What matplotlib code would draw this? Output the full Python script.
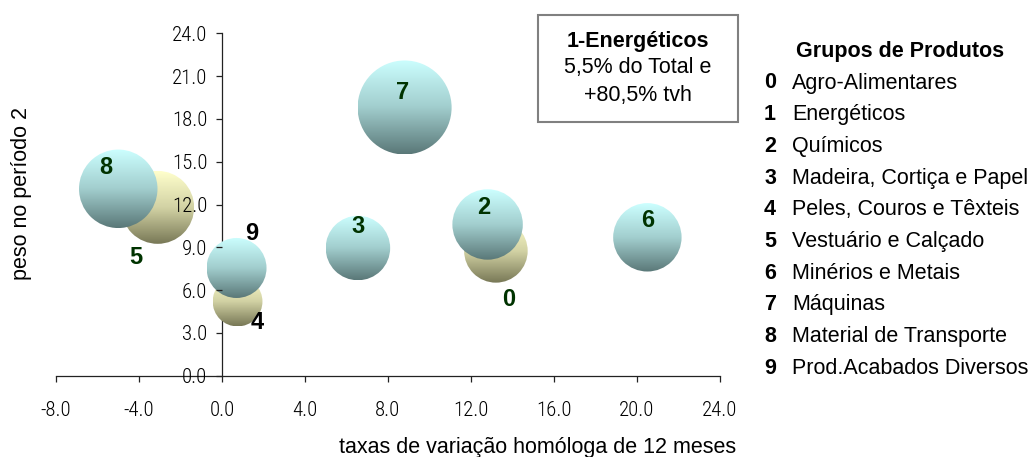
import numpy as np
import matplotlib.pyplot as plt
from matplotlib.patches import Ellipse, Rectangle
from matplotlib.colors import LinearSegmentedColormap

# Bubble chart: taxa de variação homóloga vs peso no período 2

# yellow series (drawn first, behind)
codes_a = ['0', '4', '5']
x_a = [13.2, 0.75, -3.1]
y_a = [8.75, 5.2, 11.8]
size_a = [10.1, 6.2, 13.3]

# cyan series
codes_b = ['2', '3', '6', '7', '8', '9']
x_b = [12.8, 6.55, 20.5, 8.8, -5.0, 0.7]
y_b = [10.6, 8.95, 9.7, 18.8, 13.1, 7.55]
size_b = [12.4, 10.4, 11.7, 22.1, 15.4, 9.0]

legend_codes = ['0', '1', '2', '3', '4', '5', '6', '7', '8', '9']
legend_names = ['Agro-Alimentares', 'Energéticos', 'Químicos',
                'Madeira, Cortiça e Papel', 'Peles, Couros e Têxteis',
                'Vestuário e Calçado', 'Minérios e Metais', 'Máquinas',
                'Material de Transporte', 'Prod.Acabados Diversos']

box_lines = ['1-Energéticos', '5,5% do Total e', '+80,5% tvh']

xticks = np.arange(-8, 25, 4)
yticks = np.arange(0, 25, 3)

# label offsets in pixels (dx, dy) and colours
label_offset = {'0': (13, -49), '2': (-4, 17), '3': (0, 22), '4': (20, -21),
                '5': (-22, -50), '6': (0, 17), '7': (-2, 15), '8': (-12, 21),
                '9': (15, 34)}
label_color = {'4': 'black', '9': 'black'}
DARK_GREEN = '#003300'
SANS = ['Liberation Sans', 'DejaVu Sans']
NARROW = ['Roboto Condensed', 'DejaVu Sans']
FS = 15.5

W, H = 1029, 457
fig = plt.figure(figsize=(W / 100, H / 100), dpi=100)
ax_l, ax_r, ax_t, ax_b = 56, 720, 33.3, 375.7
ax = fig.add_axes([ax_l / W, 1 - ax_b / H, (ax_r - ax_l) / W, (ax_b - ax_t) / H])

xmin, xmax, ymin, ymax = -8, 24, 0, 24
px_x = (ax_r - ax_l) / (xmax - xmin)
px_y = (ax_b - ax_t) / (ymax - ymin)

cmap_cyan = LinearSegmentedColormap.from_list('cy', ['#ccffff', '#a2cece', '#5a7878'])
cmap_yel = LinearSegmentedColormap.from_list('ye', ['#ffffcc', '#d2d2a4', '#787856'])
grad = np.linspace(0, 1, 256).reshape(-1, 1)


def draw_bubbles(xs, ys, sizes, cmap):
    for x, y, s in zip(xs, ys, sizes):
        r = 10.0 * np.sqrt(s)  # radius in pixels, area ~ size
        w = 2 * r / px_x
        h = 2 * r / px_y
        ell = Ellipse((x, y), w, h, facecolor='none', edgecolor='none')
        ax.add_patch(ell)
        im = ax.imshow(grad, cmap=cmap, aspect='auto', origin='upper',
                       extent=[x - w / 2, x + w / 2, y - h / 2, y + h / 2],
                       interpolation='bilinear', zorder=3)
        im.set_clip_path(ell)


draw_bubbles(x_a, y_a, size_a, cmap_yel)
draw_bubbles(x_b, y_b, size_b, cmap_cyan)

for codes, xs, ys in [(codes_a, x_a, y_a), (codes_b, x_b, y_b)]:
    for c, x, y in zip(codes, xs, ys):
        dx, dy = label_offset[c]
        ax.annotate(c, (x, y), xytext=(dx, dy), textcoords='offset pixels',
                    ha='center', va='center', fontsize=17, fontweight='bold',
                    color=label_color.get(c, DARK_GREEN), family=SANS,
                    zorder=6)

ax.set_xlim(xmin, xmax)
ax.set_ylim(ymin, ymax)
ax.set_xticks(xticks)
ax.set_yticks(yticks)
ax.set_xticklabels([f'{v:.1f}' for v in xticks])
ax.set_yticklabels([f'{v:.1f}' for v in yticks])
ax.spines['top'].set_visible(False)
ax.spines['right'].set_visible(False)
ax.spines['left'].set_position(('data', 0))
for sp in ['left', 'bottom']:
    ax.spines[sp].set_color('#222222')
    ax.spines[sp].set_linewidth(0.9)
    ax.spines[sp].set_zorder(1)
ax.tick_params(direction='out', length=4.5, width=0.9, color='#222222',
               labelsize=15, pad=6)
ax.tick_params(axis='x', pad=14)
for lab in ax.get_xticklabels() + ax.get_yticklabels():
    lab.set_family(NARROW)
    lab.set_fontweight('light')
ax.xaxis.set_zorder(5)
ax.yaxis.set_zorder(5)
ax.patch.set_alpha(0)

# axis titles
fig.text(22 / W, 1 - 193 / H, 'peso no período 2', rotation=90, ha='center',
         va='center', fontsize=FS, family=SANS)
fig.text(538 / W, 1 - 447 / H, 'taxas de variação homóloga de 12 meses',
         ha='center', va='center', fontsize=FS, family=SANS)

# annotation box
fig.patches.append(Rectangle((538 / W, 1 - 122 / H), 200 / W, 107 / H,
                             transform=fig.transFigure, facecolor='white',
                             edgecolor='#808080', linewidth=1.5))
for i, (line, yy) in enumerate(zip(box_lines, [42, 68, 95])):
    fig.text(638 / W, 1 - yy / H, line, ha='center', va='center', fontsize=FS,
             fontweight='bold' if i == 0 else 'normal', family=SANS)

# legend of groups
fig.text(900 / W, 1 - 52 / H, 'Grupos de Produtos', ha='center', va='center',
         fontsize=FS, fontweight='bold', family=SANS)
for i, (c, name) in enumerate(zip(legend_codes, legend_names)):
    yy = 83 + 31.7 * i
    fig.text(770 / W, 1 - yy / H, c, ha='center', va='center', fontsize=FS,
             fontweight='bold', family=SANS)
    fig.text(792 / W, 1 - yy / H, name, ha='left', va='center', fontsize=FS,
             family=SANS)

fig.savefig('out.png', dpi=100)
